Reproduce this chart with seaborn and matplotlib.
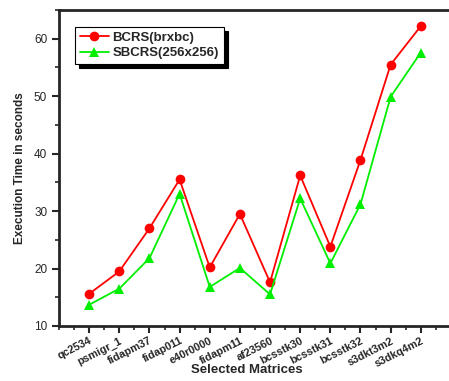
import matplotlib
matplotlib.use("Agg")
import matplotlib.pyplot as plt
import seaborn as sns
import pandas as pd
import numpy as np
from matplotlib.ticker import MultipleLocator

matrices = ["qc2534", "psmigr_1", "fidapm37", "fidap011", "e40r0000", "fidapm11",
            "af23560", "bcsstk30", "bcsstk31", "bcsstk32", "s3dkt3m2", "s3dkq4m2"]
bcrs = [15.6, 19.5, 27.0, 35.5, 20.2, 29.5, 17.6, 36.2, 23.8, 38.9, 55.5, 62.2]
sbcrs = [13.7, 16.5, 21.8, 33.0, 16.8, 20.1, 15.5, 32.2, 20.9, 31.2, 49.9, 57.6]
series_names = ["BCRS(brxbc)", "SBCRS(256x256)"]

sns.set_style("ticks")
plt.rcParams['font.family'] = ['Liberation Sans', 'DejaVu Sans']

df = pd.DataFrame({
    "idx": list(range(len(matrices))) * 2,
    "time": bcrs + sbcrs,
    "series": [series_names[0]] * len(matrices) + [series_names[1]] * len(matrices),
})

fig = plt.figure(figsize=(4.49, 3.81), dpi=100)
W, H = 449, 381
left, top, bottom = 59, 10, 326
right = 59 + 14 * 30.15
ax = fig.add_axes([left / W, 1 - bottom / H, (right - left) / W, (bottom - top) / H])

colors = {series_names[0]: "#ff0000", series_names[1]: "#00ee00"}
markers = {series_names[0]: "o", series_names[1]: "^"}
for name in series_names:
    sub = df[df.series == name]
    sns.lineplot(data=sub, x="idx", y="time", ax=ax, color=colors[name],
                 marker=markers[name], markersize=7, markeredgewidth=0,
                 linewidth=1.3, label=name)

ax.set_xlim(-1, 13)
ax.set_ylim(10, 65)
ax.set_xticks(range(13))
ax.set_xticklabels(matrices + [""], rotation=27, ha="right", rotation_mode="anchor",
                   fontsize=7.8, fontweight="bold")
ax.xaxis.set_minor_locator(MultipleLocator(0.5))
ax.yaxis.set_major_locator(MultipleLocator(10))
ax.yaxis.set_minor_locator(MultipleLocator(5))
ax.tick_params(axis="y", labelsize=8.5, width=1.5, length=5)
ax.tick_params(axis="x", width=1.5, length=5, pad=2)
ax.tick_params(which="minor", width=1.2, length=3)
for s in ax.spines.values():
    s.set_linewidth(2)
ax.set_xlabel("Selected Matrices", fontsize=9.5, fontweight="bold")
ax.xaxis.set_label_coords(247 / W, 1 - 364 / H, transform=fig.transFigure)
ax.set_ylabel("Execution Time in seconds", fontsize=8.5, fontweight="bold", labelpad=6)

leg = ax.legend(loc="upper left", bbox_to_anchor=(75 / W, 1 - 27 / H),
                bbox_transform=fig.transFigure, frameon=True, fancybox=False,
                shadow={"color": "black", "alpha": 1.0, "ox": 3, "oy": -3},
                prop={"weight": "bold", "size": 9.5}, handlelength=2.2,
                borderpad=0.35, labelspacing=0.25, handletextpad=0.3, borderaxespad=0)
leg.get_frame().set_edgecolor("black")
leg.get_frame().set_linewidth(0.8)

fig.savefig("out.png", dpi=100)
